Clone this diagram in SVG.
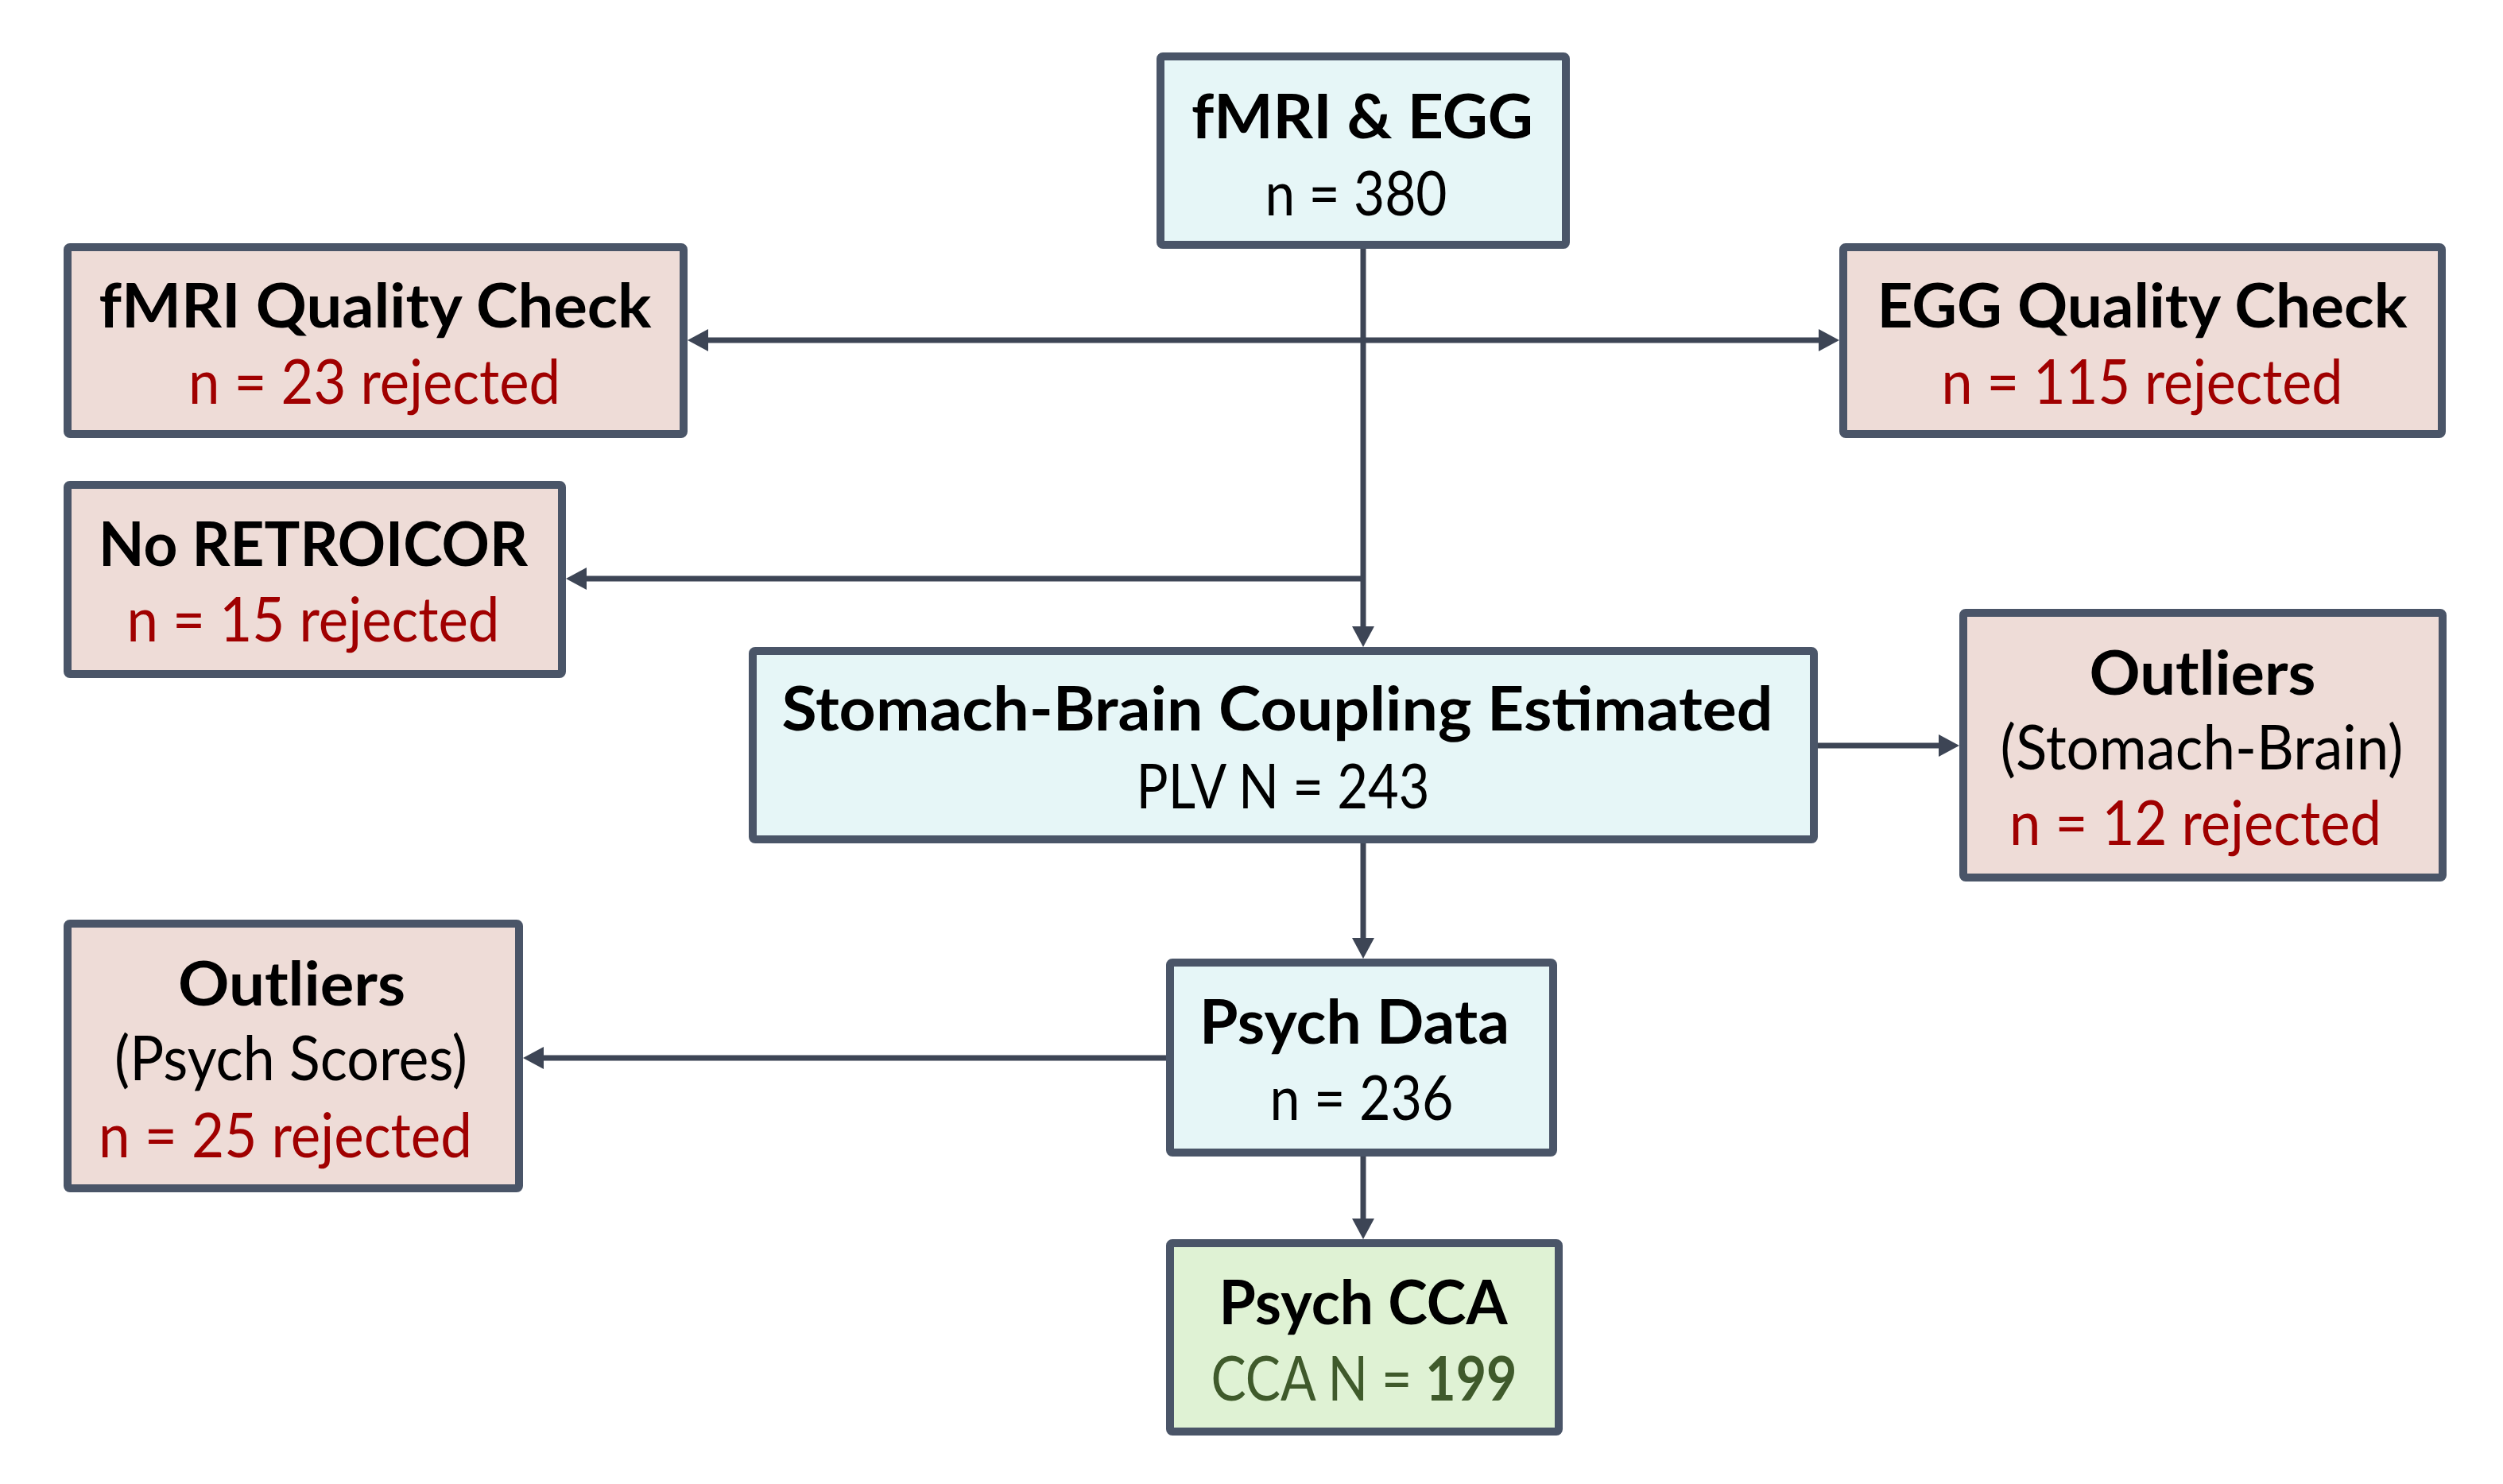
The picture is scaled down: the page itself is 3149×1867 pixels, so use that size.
<svg xmlns="http://www.w3.org/2000/svg" width="3149" height="1867" viewBox="0 0 3149 1867">
<style>
.box{stroke:#4a5568;stroke-width:10;stroke-linejoin:round}
.blue{fill:#e6f6f7}
.pink{fill:#eedcd7}
.green{fill:#dff2d4}
text{font-family:Lato,"Open Sans","Liberation Sans",sans-serif;font-size:77px;text-anchor:middle}
.t{font-weight:bold;fill:#000}
.s{fill:#000}
.r{fill:#a00000}
.g{fill:#3f5a2b}
.con{stroke:#3d4555;stroke-width:7;fill:none}
</style>
<defs>
<marker id="ah" markerUnits="userSpaceOnUse" markerWidth="28" markerHeight="28" refX="18" refY="14" orient="auto">
<path d="M0,0 L26,14 L0,28 Z" fill="#3d4555"/>
</marker>
</defs>
<rect width="3149" height="1867" fill="#fff"/>
<g id="connectors">
<path class="con" d="M1715,308 L1715,806" marker-end="url(#ah)"/>
<path class="con" d="M1715,428 L873,428" marker-end="url(#ah)"/>
<path class="con" d="M1715,428 L2306,428" marker-end="url(#ah)"/>
<path class="con" d="M1715,728 L720,728" marker-end="url(#ah)"/>
<path class="con" d="M2282,938 L2457,938" marker-end="url(#ah)"/>
<path class="con" d="M1715,1056 L1715,1198" marker-end="url(#ah)"/>
<path class="con" d="M1472,1331 L666,1331" marker-end="url(#ah)"/>
<path class="con" d="M1715,1450 L1715,1551" marker-end="url(#ah)"/>
</g>
<g id="n_fmri_egg">
<rect class="box blue" x="1460" y="71" width="510" height="237" rx="3"/>
<text class="t" x="1714" y="174" textLength="430" lengthAdjust="spacingAndGlyphs">fMRI &amp; EGG</text>
<text class="s" x="1706" y="271" textLength="229" lengthAdjust="spacingAndGlyphs">n = 380</text>
</g>
<g id="n_fmri_qc">
<rect class="box pink" x="85" y="311" width="775" height="235" rx="3"/>
<text class="t" x="472" y="412" textLength="695" lengthAdjust="spacingAndGlyphs">fMRI Quality Check</text>
<text class="r" x="471" y="508" textLength="468" lengthAdjust="spacingAndGlyphs">n = 23 rejected</text>
</g>
<g id="n_egg_qc">
<rect class="box pink" x="2319" y="311" width="753" height="235" rx="3"/>
<text class="t" x="2695" y="412" textLength="667" lengthAdjust="spacingAndGlyphs">EGG Quality Check</text>
<text class="r" x="2695" y="508" textLength="505" lengthAdjust="spacingAndGlyphs">n = 115 rejected</text>
</g>
<g id="n_retroicor">
<rect class="box pink" x="85" y="610" width="622" height="238" rx="3"/>
<text class="t" x="394" y="712" textLength="540" lengthAdjust="spacingAndGlyphs">No RETROICOR</text>
<text class="r" x="394" y="807" textLength="469" lengthAdjust="spacingAndGlyphs">n = 15 rejected</text>
</g>
<g id="n_sbc">
<rect class="box blue" x="947" y="819" width="1335" height="237" rx="3"/>
<text class="t" x="1607" y="919" textLength="1247" lengthAdjust="spacingAndGlyphs">Stomach-Brain Coupling Estimated</text>
<text class="s" x="1614" y="1017" textLength="369" lengthAdjust="spacingAndGlyphs">PLV N = 243</text>
</g>
<g id="n_outliers_sb">
<rect class="box pink" x="2470" y="771" width="603" height="333" rx="3"/>
<text class="t" x="2771" y="874" textLength="285" lengthAdjust="spacingAndGlyphs">Outliers</text>
<text class="s" x="2770" y="968" textLength="507" lengthAdjust="spacingAndGlyphs">(Stomach-Brain)</text>
<text class="r" x="2762" y="1063" textLength="468" lengthAdjust="spacingAndGlyphs">n = 12 rejected</text>
</g>
<g id="n_psych_data">
<rect class="box blue" x="1472" y="1211" width="482" height="239" rx="3"/>
<text class="t" x="1704" y="1313" textLength="390" lengthAdjust="spacingAndGlyphs">Psych Data</text>
<text class="s" x="1713" y="1409" textLength="231" lengthAdjust="spacingAndGlyphs">n = 236</text>
</g>
<g id="n_outliers_ps">
<rect class="box pink" x="85" y="1162" width="568" height="333" rx="3"/>
<text class="t" x="367" y="1265" textLength="286" lengthAdjust="spacingAndGlyphs">Outliers</text>
<text class="s" x="366" y="1359" textLength="444" lengthAdjust="spacingAndGlyphs">(Psych Scores)</text>
<text class="r" x="359" y="1456" textLength="470" lengthAdjust="spacingAndGlyphs">n = 25 rejected</text>
</g>
<g id="n_psych_cca">
<rect class="box green" x="1472" y="1564" width="489" height="237" rx="3"/>
<text class="t" x="1715" y="1666" textLength="363" lengthAdjust="spacingAndGlyphs">Psych CCA</text>
<text class="g" x="1716" y="1762" textLength="385" lengthAdjust="spacingAndGlyphs">CCA N = <tspan font-weight="bold">199</tspan></text>
</g>
</svg>
